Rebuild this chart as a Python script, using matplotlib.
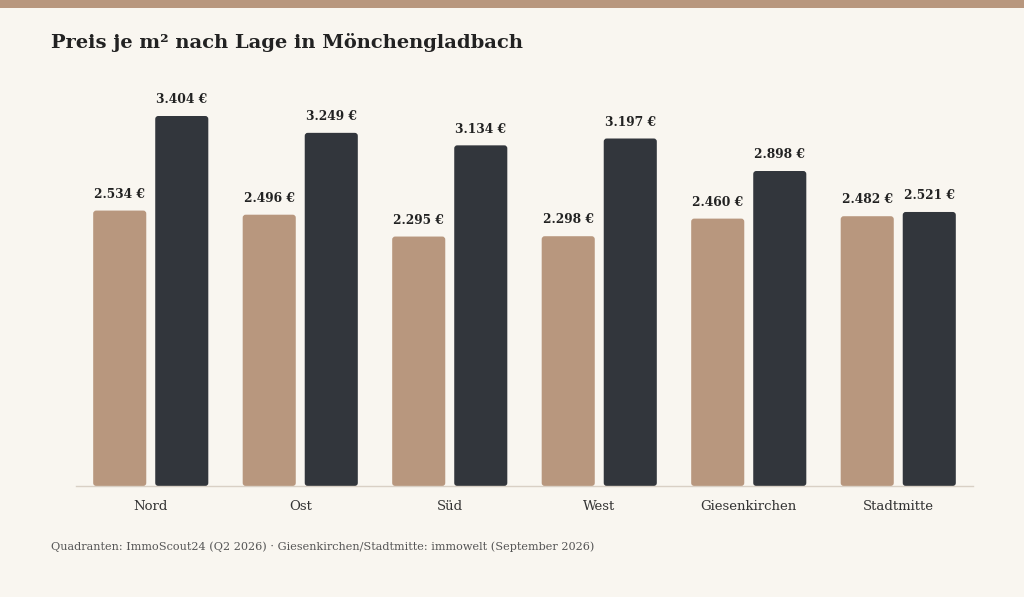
import numpy as np
import matplotlib
matplotlib.use("Agg")
import matplotlib.pyplot as plt
from matplotlib.patches import FancyBboxPatch, Rectangle

# data
categories = ["Nord", "Ost", "Süd", "West", "Giesenkirchen", "Stadtmitte"]
values_light = [2534, 2496, 2295, 2298, 2460, 2482]
values_dark = [3404, 3249, 3134, 3197, 2898, 2521]

title = "Preis je m² nach Lage in Mönchengladbach"
source = "Quadranten: ImmoScout24 (Q2 2026) · Giesenkirchen/Stadtmitte: immowelt (September 2026)"

BG = "#f9f6f0"
LIGHT = "#b8977e"
DARK = "#32363c"
TEXT = "#222222"

plt.rcParams['font.family'] = ['DejaVu Serif']


def fmt(v):
    return f"{v:,}".replace(",", ".") + " €"


def main():
    W, H = 1024, 597
    fig = plt.figure(figsize=(W / 100, H / 100), dpi=100)
    fig.patch.set_facecolor(BG)

    # top accent band
    fig.add_artist(Rectangle((0, 1 - 8 / H), 1, 8 / H, transform=fig.transFigure,
                             facecolor=LIGHT, edgecolor='none'))

    ymax = 3800
    px_per_unit = 370 / 3404
    ax_h = ymax * px_per_unit
    ax = fig.add_axes([76 / W, 111 / H, 897 / W, ax_h / H])
    ax.set_facecolor(BG)
    ax.set_xlim(-0.5, len(categories) - 0.5)
    ax.set_ylim(0, ymax)

    x = np.arange(len(categories))
    bw = 0.355
    gap = 0.06
    bars_l = ax.bar(x - (bw + gap) / 2, values_light, bw, color=LIGHT)
    bars_d = ax.bar(x + (bw + gap) / 2, values_dark, bw, color=DARK)

    # swap plain bars for rounded ones
    x_px = 897 / len(categories)
    r = 3 / x_px
    aspect = (3 / px_per_unit) / r
    for bars in (bars_l, bars_d):
        for b in bars:
            b.set_visible(False)
            p = FancyBboxPatch((b.get_x(), 0), b.get_width(), b.get_height(),
                               boxstyle=f"round,pad=0,rounding_size={r}",
                               mutation_aspect=aspect,
                               facecolor=b.get_facecolor(), edgecolor='none')
            ax.add_patch(p)
            ax.annotate(fmt(int(b.get_height())),
                        (b.get_x() + b.get_width() / 2, b.get_height()),
                        xytext=(0, 7), textcoords='offset points',
                        ha='center', va='bottom', fontsize=8.8,
                        fontweight='bold', color=TEXT)

    for s in ['top', 'right', 'left']:
        ax.spines[s].set_visible(False)
    ax.spines['bottom'].set_color('#d9d0c5')
    ax.spines['bottom'].set_linewidth(1)
    ax.set_yticks([])
    ax.set_xticks(x)
    ax.set_xticklabels(categories, fontsize=9.5, color='#333333')
    ax.tick_params(axis='x', length=0, pad=10)

    fig.text(51 / W, 1 - 42 / H, title, fontsize=14, fontweight='bold',
             color=TEXT, ha='left', va='center')
    fig.text(51 / W, 1 - 547 / H, source, fontsize=8.1, color='#555555',
             ha='left', va='center')

    fig.savefig("out.png", dpi=100, facecolor=BG)
    plt.close(fig)


if __name__ == "__main__":
    main()
